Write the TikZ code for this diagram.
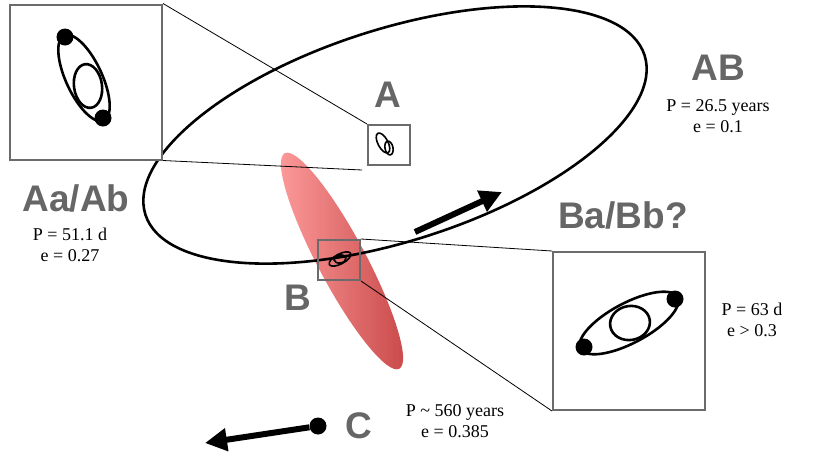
\documentclass[tikz,border=0pt]{standalone}
\usepackage{fontspec}
\setmainfont{Liberation Serif}
\newfontfamily\lblfont{Liberation Sans}
\usetikzlibrary{arrows.meta}
\definecolor{boxgray}{rgb}{0.42,0.42,0.42}
\definecolor{lblgray}{rgb}{0.40,0.40,0.40}
\tikzset{
  inset/.style={draw=boxgray, line width=2pt, inner sep=0pt},
  bigname/.style={font=\lblfont\bfseries\fontsize{37}{37}\selectfont, text=lblgray},
  orbtext/.style={font=\fontsize{18}{21}\selectfont, align=center},
  orbit/.style={line width=2.6pt},
  leader/.style={line width=0.8pt},
  star/.style={circle, fill=black, inner sep=0pt, minimum size=17pt}
}
\begin{document}
\begin{tikzpicture}[x=1pt,y=-1pt]
\useasboundingbox (0,0) rectangle (830,467);
% red orbit of C
\shade[left color=red!45!white, right color=red!70!black!85, rotate around={-62:(342,261)}, opacity=0.85]
  (342,261) ellipse (122 and 24);
% AB orbit
\draw[orbit, rotate around={17.7:(395,135)}] (395,135) ellipse (262 and 106);
% inset boxes
\node[inset, fill=white, minimum width=152pt, minimum height=155pt] (inAa) at (86,82) {};
\node[inset, fill=white, minimum width=152pt, minimum height=158pt] (inBa) at (629,331) {};
\node[inset, minimum width=42pt, minimum height=40pt] (boxA) at (389,145) {};
\node[inset, minimum width=42pt, minimum height=40pt] (boxB) at (339,260) {};
\coordinate (Alow) at (362,170);
% leader lines
\draw[leader] (inAa.north east) -- (boxA.north west);
\draw[leader] (inAa.south east) -- (Alow);
\draw[leader] (inBa.north west) -- (boxB.north east);
\draw[leader] (inBa.south west) -- (boxB.south east);
% Aa/Ab binary
\draw[orbit, rotate around={-65:(84,78)}] (84,78) ellipse (47 and 18);
\draw[orbit, rotate around={-82:(88,86)}] (88,86) ellipse (22 and 14);
\node[star] (Aa) at (65,37) {};
\node[star] (Ab) at (103,118) {};
% Ba/Bb binary
\draw[orbit, rotate around={28:(629,323)}] (629,323) ellipse (55 and 20);
\draw[orbit, rotate around={10:(630,323)}] (630,323) ellipse (20 and 17);
\node[star] (Ba) at (584,347) {};
\node[star] (Bb) at (675,299) {};
% small copies
\draw[line width=1.6pt, rotate around={-62:(383,143)}] (383,143) ellipse (11 and 5);
\draw[line width=1.6pt, rotate around={-78:(389,148)}] (389,148) ellipse (7 and 4);
\draw[line width=1.6pt, rotate around={28:(340,259)}] (340,259) ellipse (12 and 5);
\draw[line width=1.6pt, rotate around={10:(340,259)}] (340,259) ellipse (6 and 4);
% motions
\coordinate (ABs) at (415,232);
\coordinate (ABe) at (502,192);
\draw[line width=6pt, -{Triangle[length=22pt,width=22pt]}] (ABs) -- (ABe);
\node[star] (C) at (318,426) {};
\coordinate (Ce) at (205,443);
\draw[line width=6pt, -{Triangle[length=22pt,width=22pt]}] (C) -- (Ce);
% labels
\node[bigname] (lA) at (388,95) {A};
\node[bigname] (lAB) at (718,68) {AB};
\node[bigname] (lAa) at (76,198) {Aa/Ab};
\node[bigname] (lB) at (298,298) {B};
\node[bigname] (lBa) at (623,215) {Ba/Bb?};
\node[bigname] (lC) at (359,426) {C};
\node[orbtext] (tAB) at (718,116) {P = 26.5 years\\e = 0.1};
\node[orbtext] (tAa) at (70,245) {P = 51.1 d\\e = 0.27};
\node[orbtext] (tBa) at (752,320) {P = 63 d\\e > 0.3};
\node[orbtext] (tC) at (455,421) {P \textasciitilde{} 560 years\\e = 0.385};
\end{tikzpicture}
\end{document}
